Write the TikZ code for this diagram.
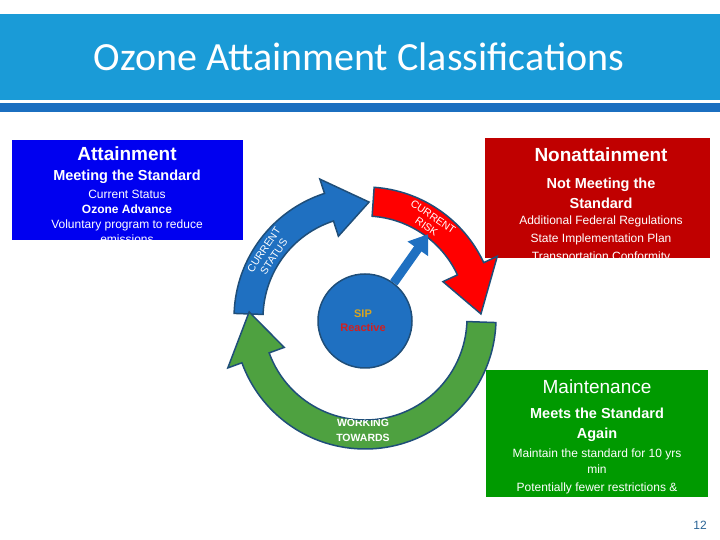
\documentclass[tikz,border=0pt]{standalone}
\usepackage{fontspec}
\setmainfont{Liberation Sans}
\newfontfamily\titlefont{Carlito}
\usetikzlibrary{arrows.meta}
\definecolor{cyanband}{HTML}{1A9BD7}
\definecolor{darkband}{HTML}{1B6FC0}
\definecolor{boxblue}{HTML}{0000F0}
\definecolor{boxred}{HTML}{C00000}
\definecolor{boxgreen}{HTML}{009A00}
\definecolor{arrblue}{HTML}{1F70C1}
\definecolor{arrred}{HTML}{FF0000}
\definecolor{arrgreen}{HTML}{4EA140}
\definecolor{edge}{HTML}{1F4E79}
\definecolor{pagenum}{HTML}{2A6496}
\tikzset{
  txt/.style={text=white,align=center,inner sep=0pt},
  ringarr/.style={draw=edge,line width=1.5pt},
}
\newcommand\ringpath[3]{(#1:131) arc[start angle=#1,end angle=#2,radius=131] -- (#2:146) -- (#3:116) -- (#2:86) -- (#2:102) arc[start angle=#2,end angle=#1,radius=102] -- cycle}
\begin{document}
\begin{tikzpicture}[x=1pt,y=1pt]
\useasboundingbox (0,0) rectangle (720,540);
\fill[white] (0,0) rectangle (720,540);
% title band
\fill[cyanband] (0,440) rectangle (720,526);
\fill[darkband] (0,428) rectangle (720,437);
\node (title) [text=white,font=\titlefont\fontsize{40}{44}\selectfont] at (359,483) {Ozone Attainment Classifications};
% blue box
\fill[boxblue] (12,300) rectangle (243,400);
\begin{scope}
\clip (12,300) rectangle (243,400);
\node (att) [txt,font=\bfseries\fontsize{19}{22}\selectfont] at (127,386) {Attainment};
\node (attb) [txt,font=\bfseries\fontsize{14.5}{17}\selectfont] at (127,363) {Meeting the Standard};
\node (attc) [txt,font=\fontsize{12}{15}\selectfont] at (127,323) {Current Status\\\textbf{Ozone Advance}\\Voluntary program to reduce\\emissions};
\end{scope}
% red box
\fill[boxred] (485,282) rectangle (710,402);
\begin{scope}
\clip (485,282) rectangle (710,402);
\node (non) [txt,font=\bfseries\fontsize{19}{22}\selectfont] at (601,385) {Nonattainment};
\node (nonb) [txt,font=\bfseries\fontsize{14.5}{20}\selectfont] at (601,347) {Not Meeting the\\Standard};
\node (nonc) [txt,font=\fontsize{12}{18}\selectfont,anchor=north] at (601,324) {Additional Federal Regulations\\State Implementation Plan\\Transportation Conformity};
\end{scope}
% green box
\fill[boxgreen] (486,43) rectangle (708,170);
\begin{scope}
\clip (486,43) rectangle (708,170);
\node (mai) [txt,font=\fontsize{19}{22}\selectfont] at (597,153) {Maintenance};
\node (maib) [txt,font=\bfseries\fontsize{14.5}{20}\selectfont] at (597,115) {Meets the Standard\\Again};
\node (maic) [txt,font=\fontsize{12}{16}\selectfont,anchor=north] at (597,91) {Maintain the standard for 10 yrs\\min\\[2pt]Potentially fewer restrictions \&};
\end{scope}
\node (pg) [text=pagenum,font=\fontsize{12}{14}\selectfont] at (700,15) {12};
% cycle
\begin{scope}[shift={(365,222)}]
\filldraw[fill=arrblue,ringarr] \ringpath{178}{108}{88};
\filldraw[fill=arrred,ringarr] \ringpath{86}{25}{2};
\filldraw[fill=arrgreen,ringarr] \ringpath{-2}{-160}{-183};
\begin{scope}
\clip \ringpath{-2}{-160}{-183};
\node (work) [txt,font=\bfseries\fontsize{10.5}{15.5}\selectfont] at (-2,-120) {WORKING\\TOWARDS\\ATTAINMENT};
\end{scope}
\node (cs) [txt,font=\fontsize{10.5}{12}\selectfont,rotate=56] at (146:116) {CURRENT\\STATUS};
\node (cr) [txt,font=\fontsize{10.5}{12}\selectfont,rotate=-34] at (56:116) {CURRENT\\RISK};
\node (sip) [circle,minimum size=94pt,fill=arrblue,draw=edge,line width=1.5pt,inner sep=0pt] at (0,-3) {};
\draw[arrblue,line width=9pt,-{Triangle[width=24pt,length=18pt]}] (sip.53) -- (53:105);
\node (sipt) [align=center,inner sep=0pt,font=\bfseries\fontsize{11}{14}\selectfont] at (-2,-3) {\textcolor[HTML]{D9A520}{SIP}\\\textcolor[HTML]{D02020}{Reactive}};
\end{scope}
\end{tikzpicture}
\end{document}
